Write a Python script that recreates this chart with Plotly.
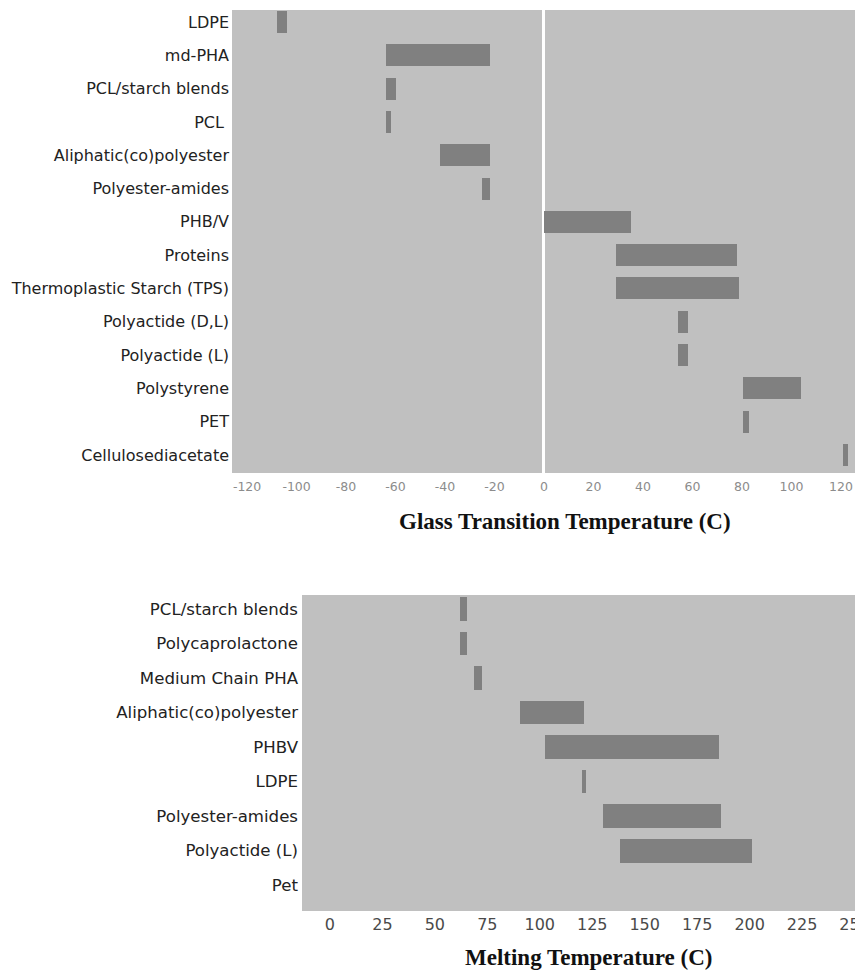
import plotly.graph_objects as go

# ---- Glass transition data ----
tg_materials = ["LDPE", "md-PHA", "PCL/starch blends", "PCL\u00a0", "Aliphatic(co)polyester",
                "Polyester-amides", "PHB/V", "Proteins", "Thermoplastic Starch (TPS)",
                "Polyactide (D,L)", "Polyactide (L)", "Polystyrene", "PET", "Cellulosediacetate"]
tg_low = [-108, -64, -64, -64, -42, -25, 0, 29, 29, 54, 54, 80.5, 80.5, 121]
tg_high = [-104, -22, -60, -62, -22, -22, 35, 78, 79, 58, 58, 104, 83, 123]
tg_ticks = [-120, -100, -80, -60, -40, -20, 0, 20, 40, 60, 80, 100, 120]

# ---- Melting data ----
tm_materials = ["PCL/starch blends", "Polycaprolactone", "Medium Chain PHA", "Aliphatic(co)polyester",
                "PHBV", "LDPE", "Polyester-amides", "Polyactide (L)", "Pet"]
tm_low = [62, 62, 68.5, 90.5, 102.5, 120, 130, 138, 250]
tm_high = [65.5, 65.5, 72.5, 121, 185.5, 122, 186.5, 201, 265]
tm_ticks = [0, 25, 50, 75, 100, 125, 150, 175, 200, 225, 250]

W, H = 855, 972
BAR = "#808080"
BG = "#c0c0c0"

fig = go.Figure()
fig.add_trace(go.Bar(
    y=tg_materials, x=[h - l for l, h in zip(tg_low, tg_high)], base=tg_low,
    orientation="h", marker=dict(color=BAR, line=dict(width=0)), width=0.66,
    xaxis="x", yaxis="y", showlegend=False, hoverinfo="skip"))
fig.add_trace(go.Bar(
    y=tm_materials, x=[h - l for l, h in zip(tm_low, tm_high)], base=tm_low,
    orientation="h", marker=dict(color=BAR, line=dict(width=0)), width=0.69,
    xaxis="x2", yaxis="y2", showlegend=False, hoverinfo="skip"))

def py(px):
    return 1 - px / H

fig.update_layout(
    width=W, height=H, autosize=False,
    margin=dict(l=0, r=0, t=0, b=0, autoexpand=False),
    paper_bgcolor="white", plot_bgcolor=BG, bargap=0,
    xaxis=dict(domain=[232 / W, 1], range=[-126.1, 125.7], anchor="y", automargin=False,
               tickvals=tg_ticks, ticktext=[str(v) for v in tg_ticks],
               showgrid=False, zeroline=True, zerolinecolor="white", zerolinewidth=3,
               showline=False, ticks="", ticklabelstandoff=4,
               tickfont=dict(family="DejaVu Sans", size=12.5, color="#8c8c8c")),
    yaxis=dict(domain=[py(473), py(10)], range=[13.54, -0.36], anchor="x", automargin=False,
               type="category", showgrid=False, zeroline=False, showline=False, ticks="",
               ticklabelstandoff=2,
               tickfont=dict(family="DejaVu Sans", size=16, color="#222222")),
    xaxis2=dict(domain=[302 / W, 1], range=[-13.3, 250.2], anchor="y2", automargin=False,
                tickvals=tm_ticks, ticktext=[str(v) for v in tm_ticks],
                showgrid=False, zeroline=False, showline=False, ticks="",
                ticklabeloverflow="allow", ticklabelstandoff=2,
                tickfont=dict(family="DejaVu Sans", size=16, color="#4a4a4a")),
    yaxis2=dict(domain=[py(911), py(595)], range=[8.75, -0.405], anchor="x2", automargin=False,
                type="category", showgrid=False, zeroline=False, showline=False, ticks="",
                ticklabelstandoff=3,
                tickfont=dict(family="DejaVu Sans", size=16.6, color="#222222")),
    annotations=[
        dict(text="<b>Glass Transition Temperature (C)</b>", xref="paper", yref="paper",
             x=564.5 / W, y=py(521), xanchor="center", yanchor="middle", showarrow=False,
             font=dict(family="Liberation Serif", size=23, color="#111111")),
        dict(text="<b>Melting Temperature (C)</b>", xref="paper", yref="paper",
             x=588 / W, y=py(957), xanchor="center", yanchor="middle", showarrow=False,
             font=dict(family="Liberation Serif", size=23, color="#111111")),
    ],
)

fig.write_html(
    "out.html",
    config={"responsive": False, "displayModeBar": False},
    post_script="document.documentElement.style.overflow='hidden';document.body.style.margin='0';document.body.style.overflow='hidden';",
)
